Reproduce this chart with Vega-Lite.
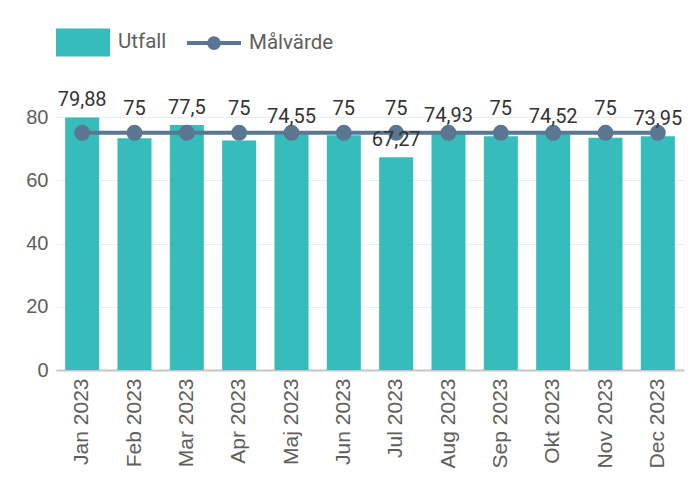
{
  "$schema": "https://vega.github.io/schema/vega-lite/v6.json",
  "width": 628,
  "height": 253,
  "autosize": {"type": "none"},
  "padding": {"left": 56, "top": 117, "right": 14, "bottom": 108},
  "background": "white",
  "config": {
    "view": {"stroke": null},
    "font": "Roboto",
    "locale": {"number": {"decimal": ",", "thousands": "\u00a0", "grouping": [3], "currency": ["", " kr"]}}
  },
  "data": {
    "values": [
      {"manad": "Jan 2023", "utfall": 79.88, "malvarde": 75, "visaUtfall": true, "visaMal": false},
      {"manad": "Feb 2023", "utfall": 73.3, "malvarde": 75, "visaUtfall": false, "visaMal": true},
      {"manad": "Mar 2023", "utfall": 77.5, "malvarde": 75, "visaUtfall": true, "visaMal": false},
      {"manad": "Apr 2023", "utfall": 72.6, "malvarde": 75, "visaUtfall": false, "visaMal": true},
      {"manad": "Maj 2023", "utfall": 74.55, "malvarde": 75, "visaUtfall": true, "visaMal": false},
      {"manad": "Jun 2023", "utfall": 74.2, "malvarde": 75, "visaUtfall": false, "visaMal": true},
      {"manad": "Jul 2023", "utfall": 67.27, "malvarde": 75, "visaUtfall": true, "visaMal": true},
      {"manad": "Aug 2023", "utfall": 74.93, "malvarde": 75, "visaUtfall": true, "visaMal": false},
      {"manad": "Sep 2023", "utfall": 73.9, "malvarde": 75, "visaUtfall": false, "visaMal": true},
      {"manad": "Okt 2023", "utfall": 74.52, "malvarde": 75, "visaUtfall": true, "visaMal": false},
      {"manad": "Nov 2023", "utfall": 73.4, "malvarde": 75, "visaUtfall": false, "visaMal": true},
      {"manad": "Dec 2023", "utfall": 73.95, "malvarde": 75, "visaUtfall": true, "visaMal": false}
    ]
  },
  "encoding": {
    "x": {
      "field": "manad", "type": "nominal", "sort": null,
      "scale": {"paddingInner": 0.35, "paddingOuter": 0.175},
      "axis": {
        "title": null, "labelAngle": -90, "ticks": false, "labelPadding": 8,
        "labelFontSize": 21, "labelColor": "#605E5C", "labelFont": "Liberation Sans",
        "domainColor": "#C8C6C4", "domainWidth": 2, "grid": false
      }
    }
  },
  "layer": [
    {
      "mark": {"type": "bar", "color": "#36BCBA"},
      "encoding": {
        "y": {
          "field": "utfall", "type": "quantitative",
          "scale": {"domain": [0, 80], "nice": false},
          "axis": {
            "title": null, "values": [0, 20, 40, 60, 80], "ticks": false, "domain": false,
            "labelPadding": 8, "labelFontSize": 20, "labelColor": "#605E5C", "labelFont": "Liberation Sans",
            "gridColor": "#E9ECEF", "gridWidth": 1
          }
        },
        "color": {
          "datum": "Utfall", "type": "nominal",
          "scale": {"domain": ["Utfall", "Målvärde"], "range": ["#36BCBA", "#5A7690"]},
          "legend": {
            "title": null, "orient": "none", "legendX": -2, "legendY": -104,
            "direction": "horizontal", "padding": 0,
            "symbolSize": 2916, "symbolStrokeWidth": 0, "labelOffset": 6, "columnPadding": 12,
            "labelFontSize": 20.5, "labelColor": "#605E5C", "labelFont": "Roboto",
            "symbolOpacity": 1,
            "encode": {
              "symbols": {
                "update": {
                  "size": {"value": 2916},
                  "shape": {"signal": "(datum.value === 'Utfall' ? 'M-1,-0.52H1V0.52H-1Z' : 'M-1,0H1M-0.18,0A0.18,0.18,0,1,1,0.18,0A0.18,0.18,0,1,1,-0.18,0Z')"},
                  "fill": {"scale": "color", "field": "value"},
                  "stroke": {"scale": "color", "field": "value"},
                  "strokeWidth": {"signal": "(datum.value === 'Utfall' ? 0 : 4)"},
                  "opacity": {"value": 1},
                  "fillOpacity": {"value": 1}
                }
              }
            }
          }
        }
      }
    },
    {
      "mark": {"type": "line", "color": "#5A7690", "strokeWidth": 4},
      "encoding": {
        "y": {"field": "malvarde", "type": "quantitative"},
        "color": {"datum": "Målvärde", "type": "nominal"}
      }
    },
    {
      "mark": {"type": "point", "filled": true, "size": 254, "opacity": 1, "color": "#5A7690"},
      "encoding": {
        "y": {"field": "malvarde", "type": "quantitative"}
      }
    },
    {
      "transform": [{"filter": "datum.visaUtfall"}],
      "mark": {"type": "text", "baseline": "alphabetic", "dy": -11, "fontSize": 20, "color": "#333333", "font": "Roboto"},
      "encoding": {
        "y": {"field": "utfall", "type": "quantitative"},
        "text": {"field": "utfall", "type": "quantitative", "format": ".4~r"}
      }
    },
    {
      "transform": [{"filter": "datum.visaMal"}],
      "mark": {"type": "text", "baseline": "alphabetic", "dy": -18, "fontSize": 20, "color": "#333333", "font": "Roboto"},
      "encoding": {
        "y": {"field": "malvarde", "type": "quantitative"},
        "text": {"field": "malvarde", "type": "quantitative", "format": ".4~r"}
      }
    }
  ]
}
